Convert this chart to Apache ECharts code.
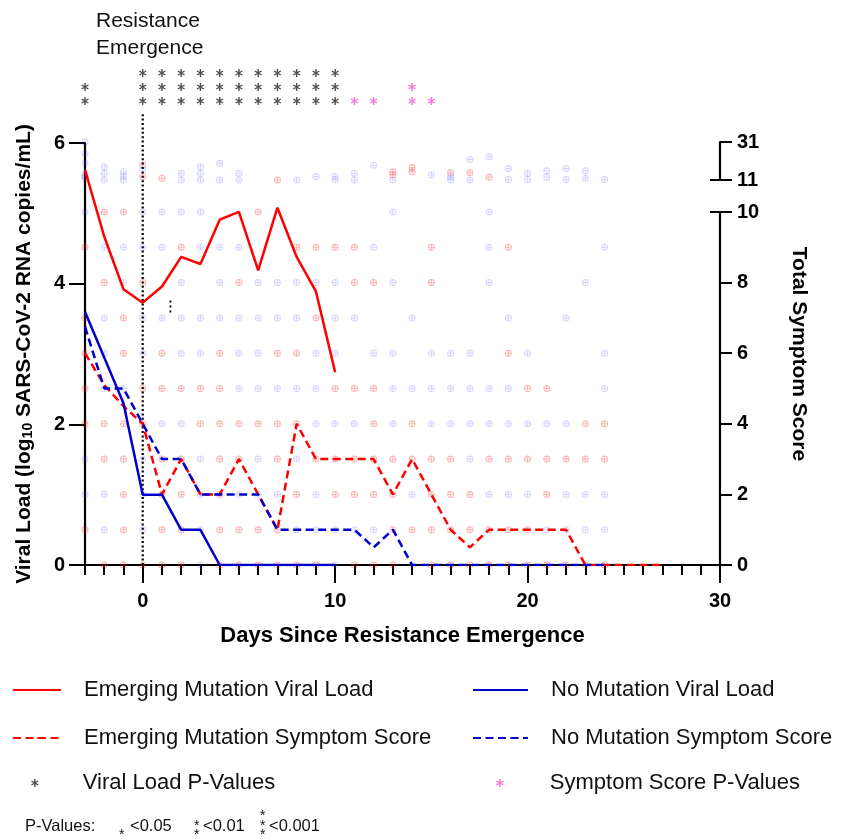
<!DOCTYPE html>
<html><head><meta charset="utf-8">
<script src="https://cdn.jsdelivr.net/npm/echarts@6/dist/echarts.min.js"></script>
<style>html,body{margin:0;padding:0;background:#fff}#c{width:842px;height:839px}</style>
</head><body><div id="c"></div>
<script>
// ---------- DATA ----------
const vlDays = [-3,-2,-1,0,1,2,3,4,5,6,7,8,9,10];
const emergingViralLoad = [5.62,4.67,3.92,3.73,3.96,4.38,4.28,4.91,5.02,4.19,5.08,4.38,3.89,2.74];
const noMutationViralLoad = [3.60,2.95,2.30,1.0,1.0,0.5,0.5,0,0,0,0,0,0,0];

const emSymptomDays = [-3,-2,-1,0,1,2,3,4,5,6,7,8,9,10,11,12,13,14,15,16,17,18,19,20,21,22,23,24,25,26,27];
const emergingSymptom = [6,5.1,4.5,4,2,3,2,2,3,2,1,4,3,3,3,3,2,3,2,1,0.5,1,1,1,1,1,0,0,0,0,0];
const noSymptomDays = [-3,-2,-1,0,1,2,3,4,5,6,7,8,9,10,11,12,13,14,15,16,17,18,19,20,21,22,23,24];
const noMutationSymptom = [6.75,5,5,4,3,3,2,2,2,2,1,1,1,1,1,0.5,1,0,0,0,0,0,0,0,0,0,0,0];

// small dotted mark near day 1.5
const markDays = [1.44,1.44];
const markViralLoad = [3.59,3.80];

// individual patient symptom scores [day, score] (0-10 segment)
const emergingDots = [
 [-2,10],[-1,10],[6,10],
 [-3,9],[2,9],[8,9],[9,9],[10,9],[11,9],[15,9],[19,9],
 [-2,8],[0,8],[5,8],[11,8],[12,8],[15,8],
 [-3,7],[-1,7],[9,7],
 [-3,6],[-1,6],[1,6],[4,6],[7,6],[8,6],[19,6],
 [-3,5],[0,5],[1,5],[2,5],[3,5],[4,5],[10,5],[11,5],[12,5],[20,5],[21,5],
 [-3,4],[-2,4],[-1,4],[0,4],[3,4],[4,4],[5,4],[6,4],[7,4],[8,4],[12,4],[14,4],[23,4],[24,4],
 [-2,3],[-1,3],[1,3],[2,3],[4,3],[5,3],[7,3],[9,3],[10,3],[11,3],[12,3],[13,3],[14,3],[15,3],[16,3],[18,3],[19,3],[20,3],[21,3],[22,3],[23,3],[24,3],
 [-1,2],[1,2],[2,2],[4,2],[8,2],[10,2],[11,2],[12,2],[13,2],[15,2],[16,2],[17,2],[21,2],
 [-3,1],[-1,1],[1,1],[2,1],[4,1],[5,1],[6,1],[7,1],[13,1],[14,1],[15,1],[16,1],[17,1],[18,1],[19,1],[20,1],
 [-2,0],[-1,0],[0,0],[1,0],[2,0],[4,0],[5,0],[6,0],[7,0],[8,0],[9,0],[11,0],[12,0],[13,0],[15,0],[16,0],[17,0],[18,0],[19,0],[20,0],[21,0],[22,0],[23,0],[24,0]
];
const noMutationDots = [
 [-3,10],[0,10],[1,10],[2,10],[3,10],[13,10],[18,10],
 [-2,9],[-1,9],[0,9],[1,9],[3,9],[4,9],[5,9],[12,9],[18,9],[24,9],
 [-1,8],[2,8],[4,8],[6,8],[7,8],[8,8],[9,8],[10,8],[13,8],[18,8],[23,8],
 [-2,7],[0,7],[1,7],[2,7],[3,7],[4,7],[5,7],[6,7],[7,7],[8,7],[10,7],[11,7],[14,7],[19,7],[22,7],
 [-2,6],[0,6],[2,6],[3,6],[5,6],[6,6],[9,6],[10,6],[12,6],[13,6],[15,6],[16,6],[17,6],[20,6],[24,6],
 [-2,5],[-1,5],[5,5],[6,5],[7,5],[8,5],[9,5],[13,5],[14,5],[15,5],[16,5],[17,5],[18,5],[19,5],[24,5],
 [1,4],[2,4],[9,4],[10,4],[11,4],[13,4],[15,4],[16,4],[17,4],[18,4],[19,4],[20,4],[21,4],[22,4],
 [-3,3],[0,3],[3,3],[6,3],[8,3],[17,3],
 [-3,2],[-2,2],[0,2],[3,2],[5,2],[6,2],[7,2],[9,2],[14,2],[18,2],[19,2],[20,2],[22,2],[23,2],[24,2],
 [-2,1],[0,1],[3,1],[8,1],[9,1],[10,1],[11,1],[12,1],[21,1],[22,1],[23,1],[24,1],
 [3,0],[10,0],[14,0]
];
// scores above the axis break (11-31)
const emergingHighDots = [[-3,12.5],[0,18.9],[0,12.7],[1,11.9],[7,11],[13,15.3],[13,13.6],[14,17.6],[14,15.3],[16,14.8],[17,14.8],[18,12.4]];
const noMutationHighDots = [[-3,31],[-3,25],[-3,19.8],[-3,14.5],[-3,12.8],[-2,18],[-2,14.5],[-2,11],[-1,15.4],[-1,13],[-1,11],[0,16.3],[2,14.5],[2,11],[3,18],[3,14.5],[3,11],[4,19.8],[4,11],[5,14.5],[5,11],[8,11],[9,12.8],[10,12.8],[10,11],[11,14.5],[11,11],[12,18.8],[13,11],[15,13.6],[16,12.7],[16,11],[17,21.8],[17,11],[18,23.2],[19,17.1],[19,11.3],[20,14.5],[20,11.3],[21,15.9],[21,12.4],[22,17.1],[22,11.3],[23,15.9],[23,11.9],[24,11.3]];

// significance markers: day and number of stars
const vlPDays = [-3,0,1,2,3,4,5,6,7,8,9,10];
const vlPStars = [2,3,3,3,3,3,3,3,3,3,3,3];
const ssPDays = [11,12,14,15];
const ssPStars = [1,1,2,1];

const xTickDays = []; for (let d = -3; d <= 30; d++) xTickDays.push(d);
const xLabelValues = [0,10,20,30];
const breakTicks = [11,31];

// ---------- CHART ----------
const FONT = '"Liberation Sans", Arial, sans-serif';
const RED = '#ff0000', BLUE = '#0000cc', PINK = '#ff4fd8';
const ASTER = 'path://M-0.9,-5L0.9,-5L0.9,5L-0.9,5ZM-4.78,-1.72L-3.88,-3.28L4.78,1.72L3.88,3.28ZM4.78,-1.72L-3.88,3.28L-4.78,1.72L3.88,-3.28Z';
const DOT = 'path://M-5,0A5,5,0,1,0,5,0A5,5,0,1,0,-5,0ZM-3.6,0A3.6,3.6,0,1,1,3.6,0A3.6,3.6,0,1,1,-3.6,0ZM-0.7,-3.6L0.7,-3.6L0.7,3.6L-0.7,3.6ZM-3.6,-0.7L3.6,-0.7L3.6,0.7L-3.6,0.7Z';

function pair(xs, ys){ return xs.map((x,i)=>[x, ys[i]]); }
function stars(days, counts){ const out=[]; days.forEach((d,i)=>{ for(let k=1;k<=counts[i];k++) out.push([d,k]); }); return out; }

const hiddenX = (g)=>({gridIndex:g, type:'value', min:-3, max:30, show:false});
const blackLine = {show:true, onZero:false, lineStyle:{color:'#000', width:2.2}};
const noLine = {show:false, onZero:false};
const legendText = {fontSize:22, color:'#111', fontFamily:FONT, padding:[0,0,0,18]};
const keyFont = '16.5px ' + FONT, starFont = '14px ' + FONT;

const chart = echarts.init(document.getElementById('c'));
chart.setOption({
  animation:false,
  textStyle:{fontFamily:FONT},
  title:{text:'Resistance\nEmergence', left:91, top:3, textStyle:{fontFamily:FONT, fontSize:21, fontWeight:'normal', color:'#111', lineHeight:27}},
  grid:[
    {left:85, width:635, top:143, height:422},
    {left:85, width:635, top:212, height:353},
    {left:85, width:635, top:142, height:38},
    {left:85, width:635, top:66, height:42},
    {left:85, width:635, top:113, height:452}
  ],
  xAxis:[
    {gridIndex:0, type:'value', min:-3, max:30, position:'bottom',
     axisLine:blackLine, splitLine:{show:false},
     axisTick:{customValues:xTickDays, length:10, lineStyle:{color:'#000', width:2}},
     axisLabel:{customValues:xLabelValues, fontSize:20, fontWeight:'bold', color:'#000', margin:26, fontFamily:FONT},
     name:'Days Since Resistance Emergence', nameLocation:'middle', nameGap:60,
     nameTextStyle:{fontSize:22, fontWeight:'bold', color:'#000', fontFamily:FONT}},
    {gridIndex:0, type:'value', min:-3, max:30, position:'bottom', axisLine:noLine, splitLine:{show:false},
     axisTick:{customValues:xLabelValues, length:18, lineStyle:{color:'#000', width:2}},
     axisLabel:{show:false}},
    hiddenX(1), hiddenX(2), hiddenX(3), hiddenX(4)
  ],
  yAxis:[
    {gridIndex:0, type:'value', min:0, max:6, interval:2, position:'left',
     axisLine:blackLine, splitLine:{show:false},
     axisTick:{show:true, length:16, lineStyle:{color:'#000', width:2}},
     axisLabel:{fontSize:20, fontWeight:'bold', color:'#000', margin:20, fontFamily:FONT},
     name:'{a|Viral Load (log}{s|10}{a| SARS-CoV-2 RNA copies/mL)}', nameLocation:'middle', nameRotate:90, nameGap:50,
     nameTextStyle:{rich:{a:{fontSize:21, fontWeight:'bold', color:'#000', fontFamily:FONT, lineHeight:26, verticalAlign:'bottom'},
                          s:{fontSize:14, fontWeight:'bold', color:'#000', fontFamily:FONT, lineHeight:16, verticalAlign:'bottom'}}}},
    {gridIndex:0, type:'value', min:0, max:1, position:'right',
     axisLine:noLine, axisTick:{show:false}, axisLabel:{show:false}, splitLine:{show:false},
     name:'Total Symptom Score', nameLocation:'middle', nameRotate:-90, nameGap:68,
     nameTextStyle:{fontSize:21, fontWeight:'bold', color:'#000', fontFamily:FONT}},
    {gridIndex:1, type:'value', min:0, max:10, interval:2, position:'right',
     axisLine:blackLine, splitLine:{show:false},
     axisTick:{show:true, length:12, lineStyle:{color:'#000', width:2}},
     axisLabel:{fontSize:20, fontWeight:'bold', color:'#000', margin:17, fontFamily:FONT}},
    {gridIndex:1, type:'value', min:0, max:10, position:'right',
     axisLine:noLine, splitLine:{show:false}, axisLabel:{show:false},
     axisTick:{show:true, inside:true, customValues:[10], length:10, lineStyle:{color:'#000', width:2}}},
    {gridIndex:2, type:'value', min:11, max:31, position:'right',
     axisLine:blackLine, splitLine:{show:false},
     axisTick:{show:true, customValues:breakTicks, length:12, lineStyle:{color:'#000', width:2}},
     axisLabel:{customValues:breakTicks, fontSize:20, fontWeight:'bold', color:'#000', margin:17, fontFamily:FONT}},
    {gridIndex:2, type:'value', min:11, max:31, position:'right',
     axisLine:noLine, splitLine:{show:false}, axisLabel:{show:false},
     axisTick:{show:true, inside:true, customValues:[11], length:10, lineStyle:{color:'#000', width:2}}},
    {gridIndex:3, type:'value', min:0.5, max:3.5, show:false},
    {gridIndex:4, type:'value', min:0, max:1, show:false}
  ],
  legend:[
    {left:7, top:674, orient:'vertical', itemWidth:48, itemHeight:2, itemGap:26, selectedMode:false,
     data:['Emerging Mutation Viral Load','Emerging Mutation Symptom Score'], textStyle:legendText},
    {left:467, top:674, orient:'vertical', itemWidth:55, itemHeight:2, itemGap:26, selectedMode:false,
     data:['No Mutation Viral Load','No Mutation Symptom Score'], textStyle:legendText},
    {left:26, top:767, itemWidth:8, itemHeight:8, selectedMode:false,
     data:[{name:'Viral Load P-Values', icon:ASTER}],
     textStyle:{fontSize:22, color:'#111', fontFamily:FONT, padding:[0,0,0,39]}},
    {left:491, top:767, itemWidth:8, itemHeight:8, selectedMode:false,
     data:[{name:'Symptom Score P-Values', icon:ASTER}],
     textStyle:{fontSize:22, color:'#111', fontFamily:FONT, padding:[0,0,0,41]}}
  ],
  graphic:[
    {type:'text', x:25, y:818, style:{text:'P-Values:', font:keyFont, fill:'#111'}},
    {type:'text', x:119, y:828, style:{text:'*', font:starFont, fill:'#111'}},
    {type:'text', x:130, y:818, style:{text:'<0.05', font:keyFont, fill:'#111'}},
    {type:'text', x:194, y:819, style:{text:'*', font:starFont, fill:'#111'}},
    {type:'text', x:194, y:828, style:{text:'*', font:starFont, fill:'#111'}},
    {type:'text', x:203, y:818, style:{text:'<0.01', font:keyFont, fill:'#111'}},
    {type:'text', x:260, y:809, style:{text:'*', font:starFont, fill:'#111'}},
    {type:'text', x:260, y:819, style:{text:'*', font:starFont, fill:'#111'}},
    {type:'text', x:260, y:828, style:{text:'*', font:starFont, fill:'#111'}},
    {type:'text', x:269, y:818, style:{text:'<0.001', font:keyFont, fill:'#111'}}
  ],
  series:[
    {type:'scatter', name:'emDots', xAxisIndex:2, yAxisIndex:2, data:emergingDots, symbol:DOT, symbolSize:7, silent:true, z:1,
     itemStyle:{color:'rgba(235,40,40,0.42)'}},
    {type:'scatter', name:'noDots', xAxisIndex:2, yAxisIndex:2, data:noMutationDots, symbol:DOT, symbolSize:7, silent:true, z:1,
     itemStyle:{color:'rgba(70,70,255,0.28)'}},
    {type:'scatter', name:'emHigh', xAxisIndex:3, yAxisIndex:4, data:emergingHighDots, symbol:DOT, symbolSize:7, silent:true, z:1,
     itemStyle:{color:'rgba(235,40,40,0.42)'}},
    {type:'scatter', name:'noHigh', xAxisIndex:3, yAxisIndex:4, data:noMutationHighDots, symbol:DOT, symbolSize:7, silent:true, z:1,
     itemStyle:{color:'rgba(70,70,255,0.28)'}},
    {type:'line', name:'Emerging Mutation Viral Load', xAxisIndex:0, yAxisIndex:0, data:pair(vlDays, emergingViralLoad),
     symbol:'none', z:5, lineStyle:{color:RED, width:2.5}, itemStyle:{color:RED}},
    {type:'line', name:'No Mutation Viral Load', xAxisIndex:0, yAxisIndex:0, data:pair(vlDays, noMutationViralLoad),
     symbol:'none', z:5, lineStyle:{color:BLUE, width:2.5}, itemStyle:{color:BLUE}},
    {type:'line', name:'Emerging Mutation Symptom Score', xAxisIndex:2, yAxisIndex:2, data:pair(emSymptomDays, emergingSymptom),
     symbol:'none', z:4, lineStyle:{color:RED, width:2.5, type:[8,4.5]}, itemStyle:{color:RED}},
    {type:'line', name:'No Mutation Symptom Score', xAxisIndex:2, yAxisIndex:2, data:pair(noSymptomDays, noMutationSymptom),
     symbol:'none', z:4, lineStyle:{color:BLUE, width:2.5, type:[8,4.5]}, itemStyle:{color:BLUE}},
    {type:'scatter', name:'Viral Load P-Values', xAxisIndex:4, yAxisIndex:6, data:stars(vlPDays, vlPStars),
     symbol:ASTER, symbolSize:[7.5,8], itemStyle:{color:'#222'}, silent:true},
    {type:'scatter', name:'Symptom Score P-Values', xAxisIndex:4, yAxisIndex:6, data:stars(ssPDays, ssPStars),
     symbol:ASTER, symbolSize:[7.5,8], itemStyle:{color:PINK}, silent:true},
    {type:'line', name:'emergence', xAxisIndex:5, yAxisIndex:7, data:[[0,0],[0,1]], symbol:'none', silent:true, z:3,
     lineStyle:{color:'#000', width:2.2, type:[2,2.4]}},
    {type:'line', name:'mark', xAxisIndex:0, yAxisIndex:0, data:pair(markDays, markViralLoad), symbol:'none', silent:true, z:3,
     lineStyle:{color:'#000', width:1.8, type:[2,3]}}
  ]
});
</script></body></html>
